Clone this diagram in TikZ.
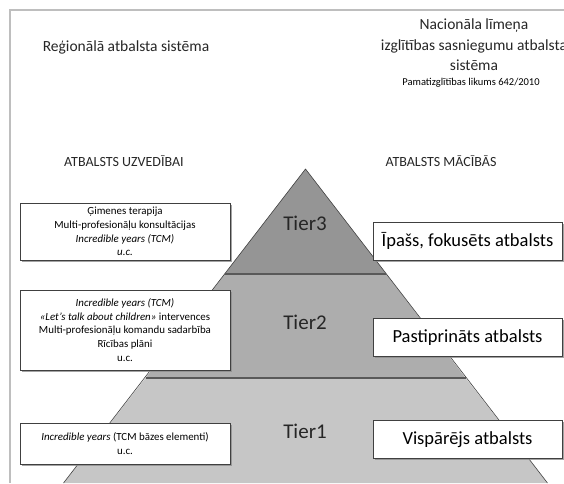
\documentclass[tikz,border=0pt]{standalone}
\usepackage{fontspec}
\setmainfont{Carlito}
\usetikzlibrary{shadows}
\definecolor{tthree}{HTML}{959595}
\definecolor{ttwo}{HTML}{ADADAD}
\definecolor{tone}{HTML}{C6C6C6}
\definecolor{edge}{HTML}{404040}
\definecolor{divider}{HTML}{595959}
\definecolor{frame}{HTML}{BEBEBE}
\tikzset{
  infobox/.style={draw=edge, line width=0.6pt, fill=white, align=center,
    drop shadow={shadow xshift=1.5pt, shadow yshift=-1.5pt, fill=black!45, opacity=0.8},
    inner sep=2pt},
  leftbox/.style={infobox, minimum width=210pt, font=\fontsize{10.9}{13.8}\selectfont},
  rightbox/.style={infobox, minimum width=189pt, minimum height=38pt, font=\fontsize{18.5}{20}\selectfont},
  tierlabel/.style={font=\fontsize{21}{24}\selectfont, text=black!85},
  heading/.style={font=\fontsize{15.5}{20.5}\selectfont, text=black!85},
  caps/.style={font=\fontsize{14}{16}\selectfont, text=black!85},
}
\begin{document}
\begin{tikzpicture}[x=1pt,y=-1pt]
\useasboundingbox (0,0) rectangle (564,483);
% slide frame
\draw[frame, line width=1.3pt] (10,483) -- (10,10) -- (564,10);
% pyramid layers
\fill[tone] (145.5,378) -- (465.5,378) -- (547.5,483) -- (63.5,483) -- cycle;
\fill[ttwo] (224.6,274) -- (386.4,274) -- (465.5,378) -- (145.5,378) -- cycle;
\fill[tthree] (305.5,169) -- (386.4,274) -- (224.6,274) -- cycle;
\draw[edge, line width=0.6pt] (63.5,483) -- (305.5,169) -- (547.5,483);
\draw[divider, line width=1.5pt] (224.6,274) -- (386.4,274);
\draw[divider, line width=1.5pt] (145.5,378) -- (465.5,378);
% tier labels
\node[tierlabel] (t3) at (305,223) {Tier3};
\node[tierlabel] (t2) at (305,322) {Tier2};
\node[tierlabel] (t1) at (305,431) {Tier1};
% headings
\node[heading] (reg) at (126,47) {Reģionālā atbalsta sistēma};
\node[heading, align=center] (nat) at (474,45)
  {Nacionāla līmeņa\\izglītības sasniegumu atbalsta\\sistēma};
\node[font=\fontsize{10.5}{12}\selectfont] (law) at (471,83) {Pamatizglītības likums 642/2010};
\node[caps] (beh) at (124,161) {ATBALSTS UZVEDĪBAI};
\node[caps] (learn) at (441,161) {ATBALSTS MĀCĪBĀS};
% left boxes
\node[leftbox, minimum height=57pt] (l3) at (125,231.5)
  {Ģimenes terapija\\Multi-profesionāļu konsultācijas\\\textit{Incredible years (TCM)}\\\textit{u.c.}};
\node[leftbox, minimum height=80pt] (l2) at (125,330)
  {\textit{Incredible years (TCM)}\\\textit{«Let’s talk about children»} intervences\\Multi-profesionāļu komandu sadarbība\\Rīcības plāni\\u.c.};
\node[leftbox, minimum height=41pt] (l1) at (125,443.5)
  {\textit{Incredible years} (TCM bāzes elementi)\\u.c.};
% right boxes
\node[rightbox] (r3) at (467.5,241) {Īpašs, fokusēts atbalsts};
\node[rightbox] (r2) at (467.5,337.5) {Pastiprināts atbalsts};
\node[rightbox] (r1) at (467.5,439.5) {Vispārējs atbalsts};
\end{tikzpicture}
\end{document}
